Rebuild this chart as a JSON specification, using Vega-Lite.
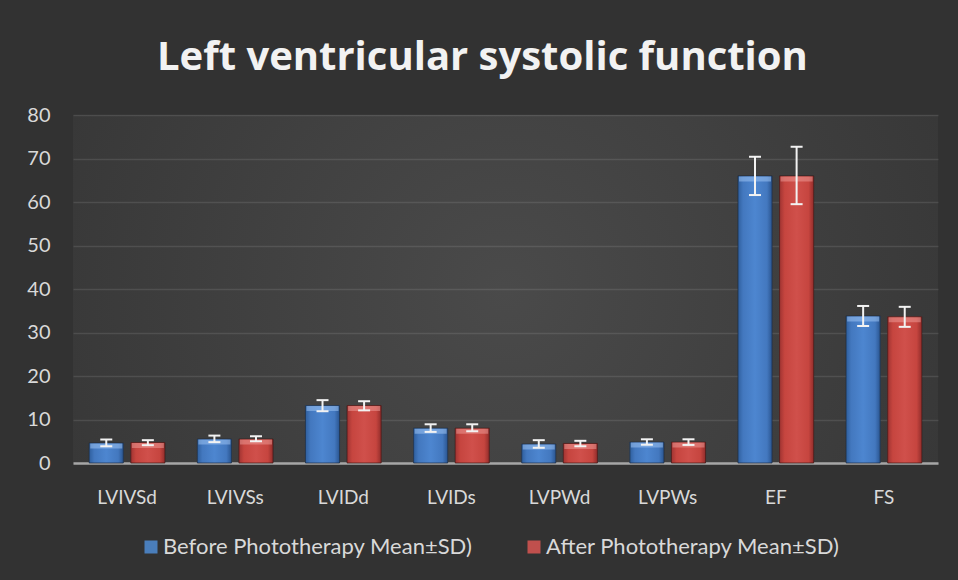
{
  "$schema": "https://vega.github.io/schema/vega-lite/v6.json",
  "width": 865,
  "height": 348,
  "autosize": {"type": "none"},
  "padding": {"left": 73, "top": 115, "right": 20, "bottom": 117},
  "background": "#323232",
  "title": {
    "text": "Left ventricular systolic function",
    "font": "Open Sans",
    "fontSize": 40,
    "fontWeight": "bold",
    "color": "#f2f2f2",
    "anchor": "middle",
    "frame": "bounds",
    "baseline": "alphabetic",
    "offset": -5
  },
  "data": {
    "values": [
      {"param": "LVIVSd", "series": "Before Phototherapy Mean±SD)", "mean": 4.6, "lo": 3.85, "hi": 5.4},
      {"param": "LVIVSd", "series": "After Phototherapy Mean±SD)", "mean": 4.7, "lo": 4.1, "hi": 5.25},
      {"param": "LVIVSs", "series": "Before Phototherapy Mean±SD)", "mean": 5.5, "lo": 4.8, "hi": 6.3},
      {"param": "LVIVSs", "series": "After Phototherapy Mean±SD)", "mean": 5.5, "lo": 5.0, "hi": 6.15},
      {"param": "LVIDd", "series": "Before Phototherapy Mean±SD)", "mean": 13.2, "lo": 11.9, "hi": 14.45},
      {"param": "LVIDd", "series": "After Phototherapy Mean±SD)", "mean": 13.2, "lo": 12.1, "hi": 14.2},
      {"param": "LVIDs", "series": "Before Phototherapy Mean±SD)", "mean": 8.0, "lo": 7.15, "hi": 8.9},
      {"param": "LVIDs", "series": "After Phototherapy Mean±SD)", "mean": 8.0, "lo": 7.3, "hi": 8.9},
      {"param": "LVPWd", "series": "Before Phototherapy Mean±SD)", "mean": 4.35, "lo": 3.5, "hi": 5.25},
      {"param": "LVPWd", "series": "After Phototherapy Mean±SD)", "mean": 4.5, "lo": 3.85, "hi": 5.1},
      {"param": "LVPWs", "series": "Before Phototherapy Mean±SD)", "mean": 4.8, "lo": 4.2, "hi": 5.45},
      {"param": "LVPWs", "series": "After Phototherapy Mean±SD)", "mean": 4.8, "lo": 4.15, "hi": 5.45},
      {"param": "EF", "series": "Before Phototherapy Mean±SD)", "mean": 66.0, "lo": 61.6, "hi": 70.4},
      {"param": "EF", "series": "After Phototherapy Mean±SD)", "mean": 66.0, "lo": 59.5, "hi": 72.7},
      {"param": "FS", "series": "Before Phototherapy Mean±SD)", "mean": 33.8, "lo": 31.5, "hi": 36.1},
      {"param": "FS", "series": "After Phototherapy Mean±SD)", "mean": 33.6, "lo": 31.3, "hi": 35.9}
    ]
  },
  "encoding": {
    "x": {
      "field": "param",
      "type": "nominal",
      "sort": ["LVIVSd", "LVIVSs", "LVIDd", "LVIDs", "LVPWd", "LVPWs", "EF", "FS"],
      "scale": {"paddingInner": 0.3, "paddingOuter": 0.15},
      "title": null
    },
    "xOffset": {
      "field": "series",
      "type": "nominal",
      "sort": ["Before Phototherapy Mean±SD)", "After Phototherapy Mean±SD)"],
      "scale": {"paddingInner": 0.18}
    }
  },
  "layer": [
    {
      "mark": {"type": "bar"},
      "encoding": {
        "y": {"field": "mean", "type": "quantitative", "scale": {"domain": [0, 80]}, "title": null},
        "color": {
          "field": "series",
          "type": "nominal",
          "sort": ["Before Phototherapy Mean±SD)", "After Phototherapy Mean±SD)"],
          "scale": {"range": ["#4a7ebb", "#c0504d"]},
          "legend": {"title": null, "orient": "none", "legendX": 67, "legendY": 421}
        }
      }
    },
    {
      "transform": [{"filter": {"field": "series", "equal": "Before Phototherapy Mean±SD)"}}],
      "mark": {
        "type": "bar",
        "stroke": "#1c2a3c",
        "strokeWidth": 1,
        "strokeOpacity": 0.7,
        "fill": {
          "gradient": "linear", "x1": 0, "y1": 0, "x2": 1, "y2": 0,
          "stops": [
            {"offset": 0, "color": "#2f5f9e"},
            {"offset": 0.15, "color": "#4378bf"},
            {"offset": 0.5, "color": "#4d86d0"},
            {"offset": 0.85, "color": "#4378bf"},
            {"offset": 1, "color": "#2a5590"}
          ]
        }
      },
      "encoding": {"y": {"field": "mean", "type": "quantitative", "title": null}}
    },
    {
      "transform": [{"filter": {"field": "series", "equal": "After Phototherapy Mean±SD)"}}],
      "mark": {
        "type": "bar",
        "stroke": "#3a1716",
        "strokeWidth": 1,
        "strokeOpacity": 0.7,
        "fill": {
          "gradient": "linear", "x1": 0, "y1": 0, "x2": 1, "y2": 0,
          "stops": [
            {"offset": 0, "color": "#a03432"},
            {"offset": 0.15, "color": "#c6453f"},
            {"offset": 0.5, "color": "#d0504b"},
            {"offset": 0.85, "color": "#c6453f"},
            {"offset": 1, "color": "#922d2b"}
          ]
        }
      },
      "encoding": {"y": {"field": "mean", "type": "quantitative", "title": null}}
    },
    {
      "transform": [{"filter": {"field": "series", "equal": "Before Phototherapy Mean±SD)"}}],
      "mark": {"type": "tick", "color": "#9cc3f2", "opacity": 0.55, "thickness": 5, "size": 32, "yOffset": 3},
      "encoding": {"y": {"field": "mean", "type": "quantitative", "title": null}}
    },
    {
      "transform": [{"filter": {"field": "series", "equal": "After Phototherapy Mean±SD)"}}],
      "mark": {"type": "tick", "color": "#f0a09c", "opacity": 0.5, "thickness": 5, "size": 32, "yOffset": 3},
      "encoding": {"y": {"field": "mean", "type": "quantitative", "title": null}}
    },
    {
      "mark": {"type": "rule", "color": "#f2f2f2", "strokeWidth": 2},
      "encoding": {
        "y": {"field": "lo", "type": "quantitative", "title": null},
        "y2": {"field": "hi"}
      }
    },
    {
      "mark": {"type": "tick", "color": "#f2f2f2", "thickness": 2, "size": 12, "opacity": 1},
      "encoding": {"y": {"field": "lo", "type": "quantitative", "title": null}}
    },
    {
      "mark": {"type": "tick", "color": "#f2f2f2", "thickness": 2, "size": 12, "opacity": 1},
      "encoding": {"y": {"field": "hi", "type": "quantitative", "title": null}}
    }
  ],
  "config": {
    "font": "Lato",
    "view": {
      "stroke": null,
      "fill": {
        "gradient": "radial", "x1": 0.5, "y1": 0.5, "r1": 0, "x2": 0.5, "y2": 0.5, "r2": 0.72,
        "stops": [
          {"offset": 0, "color": "#4a4a4a"},
          {"offset": 1, "color": "#323232"}
        ]
      }
    },
    "axisX": {
      "labelFont": "Lato",
      "labelFontSize": 19,
      "labelColor": "#d9d9d9",
      "labelAngle": 0,
      "ticks": false,
      "labelPadding": 25,
      "domainColor": "#a6a6a6",
      "domainWidth": 2.5,
      "grid": false
    },
    "axisY": {
      "labelFont": "Lato",
      "labelFontSize": 20,
      "labelColor": "#d9d9d9",
      "ticks": false,
      "labelPadding": 23,
      "domain": false,
      "tickCount": 8,
      "gridColor": "#ffffff",
      "gridOpacity": 0.1,
      "gridWidth": 1.5
    },
    "legend": {
      "direction": "horizontal",
      "labelFont": "Lato",
      "labelFontSize": 22,
      "labelColor": "#d9d9d9",
      "labelLimit": 400,
      "symbolType": "square",
      "symbolSize": 169,
      "symbolStrokeWidth": 0,
      "symbolOpacity": 1,
      "columnPadding": 50,
      "labelOffset": 1
    }
  }
}
